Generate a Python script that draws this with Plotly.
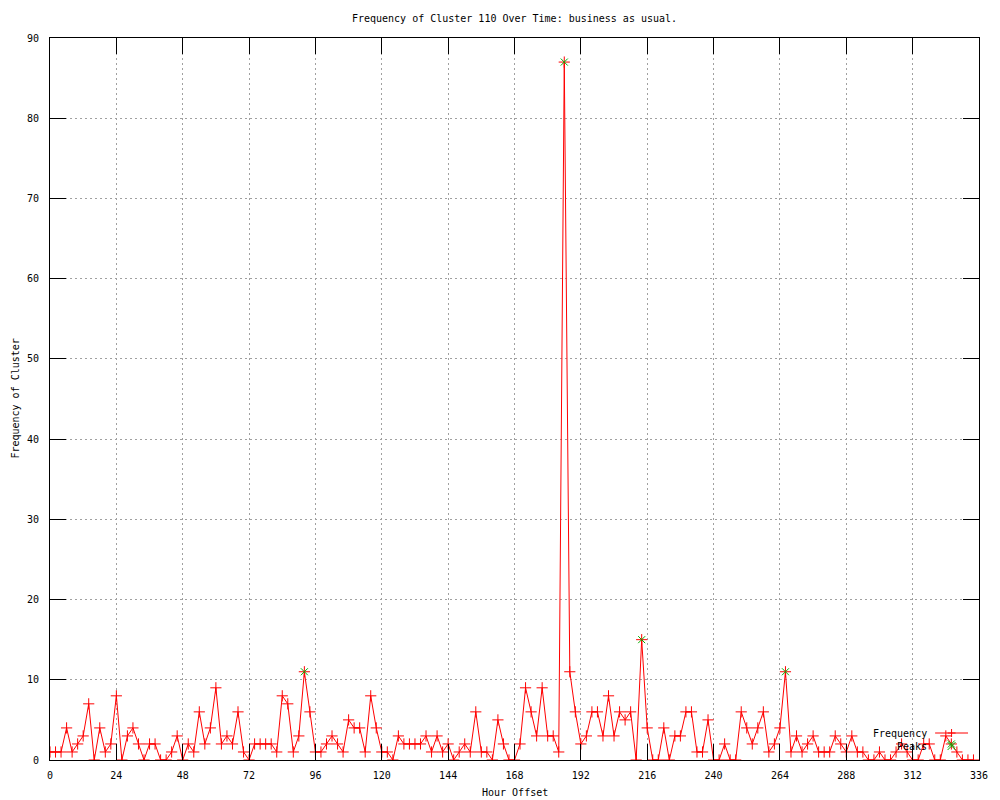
import plotly.graph_objects as go

# ---------------- data ----------------
hour_step = 2
frequency = [
    1, 1, 1, 4, 1, 2, 3, 7, 0, 4, 1, 2,          # 0-22
    8, 0, 3, 4, 2, 0, 2, 2, 0, 0, 1, 3,          # 24-46
    0, 2, 1, 6, 2, 4, 9, 2, 3, 2, 6, 1,          # 48-70
    0, 2, 2, 2, 2, 1, 8, 7, 1, 3, 11, 6,         # 72-94
    1, 1, 2, 3, 2, 1, 5, 4, 4, 1, 8, 4,          # 96-118
    1, 1, 0, 3, 2, 2, 2, 2, 3, 1, 3, 1,          # 120-142
    2, 0, 1, 2, 1, 6, 1, 1, 0, 5, 2, 0,          # 144-166
    0, 2, 9, 6, 3, 9, 3, 3, 1, 87, 11, 6,        # 168-190
    2, 3, 6, 6, 3, 8, 3, 6, 5, 6, 0, 15,         # 192-214
    4, 0, 0, 4, 0, 3, 3, 6, 6, 1, 1, 5,          # 216-238
    0, 0, 2, 0, 0, 6, 4, 2, 4, 6, 1, 2,          # 240-262
    4, 11, 1, 3, 1, 2, 3, 1, 1, 1, 3, 2,         # 264-286
    1, 3, 1, 1, 0, 0, 1, 0, 0, 1, 2, 1,          # 288-310
    0, 0, 2, 2, 0, 0, 3, 2, 1, 0, 0, 0,          # 312-334
]
hours = [i * hour_step for i in range(len(frequency))]

peak_hours = [92, 186, 214, 266, 326]
peak_values = [11, 87, 15, 11, 2]

x_ticks = list(range(0, 337, 24))
y_ticks = list(range(0, 91, 10))

title_text = "Frequency of Cluster 110 Over Time: business as usual."
x_title = "Hour Offset"
y_title = "Frequency of Cluster"

# ---------------- layout geometry ----------------
W, H = 1000, 800
L, R, T, B = 49.5, 981, 38, 760
FONT = "DejaVu Sans Mono"
RED = "#ff0000"
GREEN = "#00b000"


def px(xp):
    return (xp - L) / (R - L)


def py(yp):
    return (B - yp) / (B - T)


fig = go.Figure()
fig.add_trace(go.Scatter(
    x=hours, y=frequency, mode="lines+markers", name="Frequency",
    line=dict(color=RED, width=1),
    marker=dict(symbol="cross-thin-open", size=8, color=RED,
                line=dict(color=RED, width=1)),
    showlegend=False,
))
fig.add_trace(go.Scatter(
    x=peak_hours, y=peak_values, mode="markers", name="Peaks",
    marker=dict(symbol="x-thin-open", size=7, color=GREEN,
                line=dict(color=GREEN, width=1)),
    showlegend=False,
))

axis_common = dict(
    showline=True, linecolor="black", linewidth=1, mirror="ticks",
    ticks="inside", ticklen=16, tickwidth=1, tickcolor="black",
    showgrid=True, gridcolor="#a0a0a0", griddash="2px,3px", gridwidth=1,
    zeroline=False, tickfont=dict(family=FONT, size=10, color="black"),
)

fig.update_xaxes(range=[0, 336], tickvals=x_ticks,
                 ticklabelstandoff=6, **axis_common)
fig.update_yaxes(range=[0, 90], tickvals=y_ticks,
                 ticklabelstandoff=8, **axis_common)

annotations = [
    dict(text=x_title, xref="paper", yref="paper", x=0.5, y=py(793),
         xanchor="center", yanchor="middle", showarrow=False,
         font=dict(family=FONT, size=10, color="black")),
    dict(text=y_title, xref="paper", yref="paper", x=px(14), y=0.5,
         xanchor="center", yanchor="middle", showarrow=False, textangle=-90,
         font=dict(family=FONT, size=10, color="black")),
    dict(text="Frequency", xref="paper", yref="paper", x=px(931), y=py(733),
         xanchor="right", yanchor="middle", showarrow=False,
         font=dict(family=FONT, size=10, color="black")),
    dict(text="Peaks", xref="paper", yref="paper", x=px(931), y=py(746),
         xanchor="right", yanchor="middle", showarrow=False,
         font=dict(family=FONT, size=10, color="black")),
]

# manual gnuplot-style key (samples)
d = 4
shapes = [
    dict(type="line", xref="paper", yref="paper", x0=px(937), x1=px(970),
         y0=py(733), y1=py(733), line=dict(color=RED, width=1)),
    dict(type="line", xref="paper", yref="paper", x0=px(953.5 - d), x1=px(953.5 + d),
         y0=py(733), y1=py(733), line=dict(color=RED, width=1)),
    dict(type="line", xref="paper", yref="paper", x0=px(953.5), x1=px(953.5),
         y0=py(733 - d), y1=py(733 + d), line=dict(color=RED, width=1)),
    dict(type="line", xref="paper", yref="paper", x0=px(953.5 - d), x1=px(953.5 + d),
         y0=py(746 - d), y1=py(746 + d), line=dict(color=GREEN, width=1)),
    dict(type="line", xref="paper", yref="paper", x0=px(953.5 - d), x1=px(953.5 + d),
         y0=py(746 + d), y1=py(746 - d), line=dict(color=GREEN, width=1)),
]

fig.update_layout(
    width=W, height=H,
    margin=dict(l=L, r=W - R, t=T, b=H - B),
    paper_bgcolor="white", plot_bgcolor="white",
    title=dict(text=title_text, x=0.5, xref="paper", xanchor="center",
               y=1 - 18 / H, yref="container", yanchor="middle",
               font=dict(family=FONT, size=10, color="black")),
    annotations=annotations, shapes=shapes,
    showlegend=False,
)

fig.write_html(
    "out.html",
    config={"displayModeBar": False},
    post_script="document.body.style.margin='0px';"
                "document.body.style.overflow='hidden';",
)
